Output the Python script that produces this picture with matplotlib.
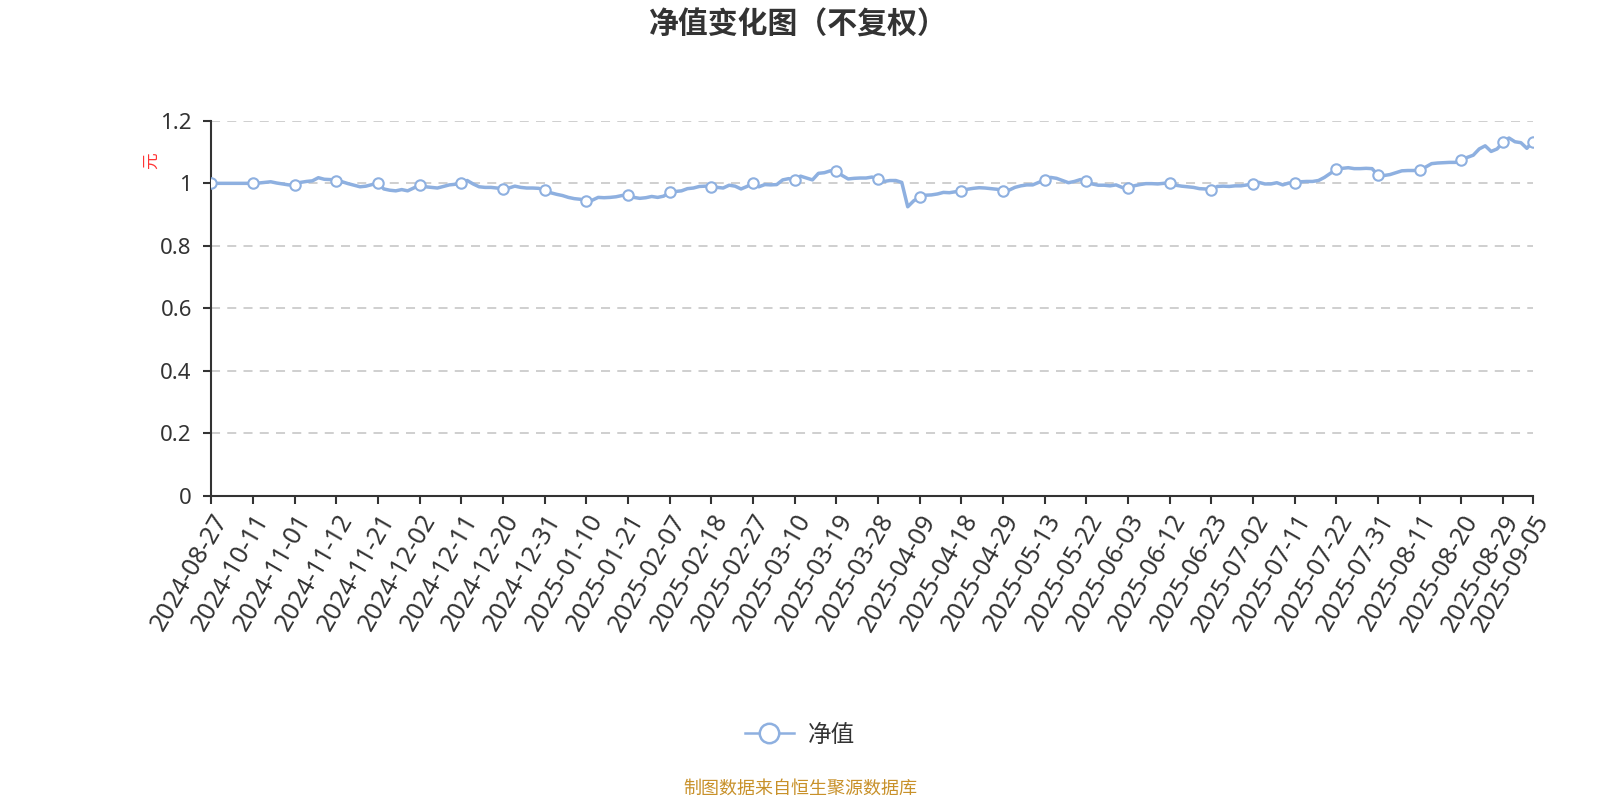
import matplotlib
matplotlib.use('Agg')
import matplotlib.pyplot as plt
from matplotlib.lines import Line2D

plt.rcParams['font.family'] = ['Noto Sans CJK SC', 'DejaVu Sans']
plt.rcParams['axes.unicode_minus'] = False

# 横轴标签（每7个交易日一个，最后一个为末日）
tick_labels = [
    '2024-08-27', '2024-10-11', '2024-11-01', '2024-11-12', '2024-11-21',
    '2024-12-02', '2024-12-11', '2024-12-20', '2024-12-31', '2025-01-10',
    '2025-01-21', '2025-02-07', '2025-02-18', '2025-02-27', '2025-03-10',
    '2025-03-19', '2025-03-28', '2025-04-09', '2025-04-18', '2025-04-29',
    '2025-05-13', '2025-05-22', '2025-06-03', '2025-06-12', '2025-06-23',
    '2025-07-02', '2025-07-11', '2025-07-22', '2025-07-31', '2025-08-11',
    '2025-08-20', '2025-08-29', '2025-09-05',
]
tick_step = 7

# 单位净值（元）
nav = [
    1.000, 1.000, 1.000, 1.000, 1.000, 1.000, 1.000,
    1.000, 1.001, 1.003, 1.005, 1.001, 0.998, 0.995,
    0.996, 1.003, 1.006, 1.008, 1.018, 1.013, 1.012,
    1.009, 1.005, 0.999, 0.994, 0.989, 0.991, 0.996,
    1.000, 0.982, 0.978, 0.976, 0.980, 0.976, 0.985,
    0.994, 0.989, 0.987, 0.985, 0.990, 0.995, 0.997,
    1.000, 1.009, 0.998, 0.989, 0.987, 0.987, 0.985,
    0.983, 0.985, 0.991, 0.987, 0.985, 0.985, 0.984,
    0.978, 0.970, 0.965, 0.961, 0.955, 0.951, 0.949,
    0.943, 0.946, 0.955, 0.954, 0.955, 0.957, 0.961,
    0.962, 0.955, 0.952, 0.954, 0.958, 0.955, 0.959,
    0.971, 0.974, 0.976, 0.983, 0.985, 0.990, 0.991,
    0.989, 0.987, 0.985, 0.994, 0.991, 0.982, 0.990,
    1.001, 0.989, 0.996, 0.995, 0.996, 1.011, 1.015,
    1.011, 1.023, 1.017, 1.011, 1.032, 1.034, 1.040,
    1.040, 1.025, 1.014, 1.016, 1.017, 1.017, 1.020,
    1.014, 1.006, 1.009, 1.009, 1.003, 0.925, 0.944,
    0.956, 0.962, 0.963, 0.966, 0.971, 0.970, 0.973,
    0.975, 0.981, 0.984, 0.986, 0.985, 0.983, 0.981,
    0.977, 0.978, 0.987, 0.992, 0.995, 0.995, 1.003,
    1.011, 1.019, 1.016, 1.009, 1.002, 1.006, 1.012,
    1.009, 0.998, 0.994, 0.994, 0.992, 0.995, 0.987,
    0.985, 0.992, 0.996, 0.999, 0.999, 0.998, 1.000,
    1.002, 0.994, 0.991, 0.989, 0.987, 0.983, 0.982,
    0.978, 0.990, 0.991, 0.990, 0.992, 0.992, 0.995,
    0.998, 1.003, 0.998, 0.998, 1.002, 0.995, 1.001,
    1.001, 1.005, 1.006, 1.006, 1.009, 1.019, 1.032,
    1.045, 1.048, 1.050, 1.047, 1.047, 1.048, 1.047,
    1.026, 1.025, 1.028, 1.034, 1.040, 1.041, 1.041,
    1.042, 1.052, 1.063, 1.065, 1.066, 1.067, 1.067,
    1.074, 1.083, 1.090, 1.110, 1.120, 1.102, 1.110,
    1.131, 1.145, 1.133, 1.130, 1.112, 1.133,
]

line_color = '#8eb0e0'
text_color = '#333333'
tick_font = ['Noto Sans', 'DejaVu Sans']

fig = plt.figure(figsize=(16, 8), dpi=100)
ax = fig.add_axes([0.132, 0.380, 0.826, 0.469])

x = list(range(len(nav)))
tick_pos = list(range(0, len(nav), tick_step))
if tick_pos[-1] != len(nav) - 1:
    tick_pos.append(len(nav) - 1)

ax.plot(x, nav, color=line_color, linewidth=2.5, solid_joinstyle='round',
        marker='o', markevery=tick_pos, markersize=7.5,
        markerfacecolor='white', markeredgecolor=line_color, markeredgewidth=1.5,
        zorder=3)

ax.set_xlim(0, len(nav) - 1)
ax.set_ylim(0, 1.2)
ax.set_yticks([0, 0.2, 0.4, 0.6, 0.8, 1.0, 1.2])
ax.set_yticklabels(['0', '0.2', '0.4', '0.6', '0.8', '1', '1.2'],
                   family=tick_font, fontsize=16)
ax.set_xticks(tick_pos)
ax.set_xticklabels(tick_labels[:len(tick_pos)], rotation=60, ha='right',
                   rotation_mode='anchor', family=tick_font, fontsize=18)

ax.tick_params(axis='both', colors=text_color, length=6, width=1.5)
ax.tick_params(axis='x', pad=4)
ax.tick_params(axis='y', pad=8)

for s in ['top', 'right']:
    ax.spines[s].set_visible(False)
for s in ['left', 'bottom']:
    ax.spines[s].set_color(text_color)
    ax.spines[s].set_linewidth(1.5)

for yv in [0.2, 0.4, 0.6, 0.8, 1.0, 1.2]:
    ax.axhline(yv, color='#cccccc', linewidth=1.3, linestyle=(0, (5, 4)), zorder=1)

ax.set_ylabel('元', color='#ff3333', fontsize=12, labelpad=0)
ax.yaxis.set_label_coords(-0.039, 0.895)

fig.text(0.499, 0.969, '净值变化图（不复权）', ha='center', va='center',
         fontsize=21.5, fontweight='bold', color=text_color)

handle = Line2D([0], [0], color=line_color, linewidth=1.8, marker='o',
                markersize=14, markerfacecolor='white',
                markeredgecolor=line_color, markeredgewidth=1.8)
fig.legend([handle], ['净值'], loc='center', bbox_to_anchor=(0.5, 0.081),
           frameon=False, fontsize=17, handlelength=2.1, handletextpad=0.6,
           labelcolor=text_color)

fig.text(0.5, 0.014, '制图数据来自恒生聚源数据库', ha='center', va='center',
         fontsize=13, color='#c8912a')

fig.savefig('out.png', dpi=100)
